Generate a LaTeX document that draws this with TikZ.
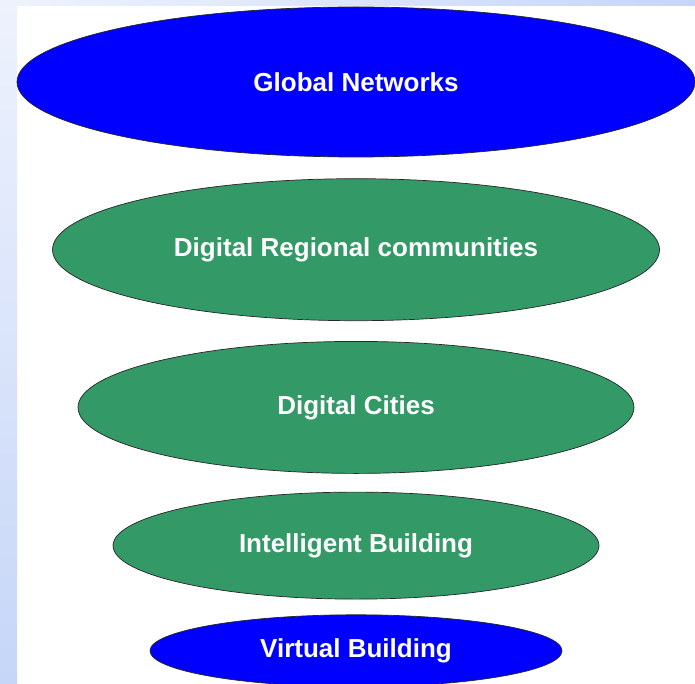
\documentclass[tikz,border=0pt]{standalone}
\usepackage{fontspec}
\setmainfont{Liberation Sans}
\usepackage{xcolor}
\usetikzlibrary{positioning, shapes.geometric}

\definecolor{netblue}{RGB}{0,0,255}
\definecolor{layergreen}{RGB}{51,153,102}
\definecolor{paleblue}{RGB}{238,242,253}
\definecolor{edgeblue}{RGB}{198,214,248}

\begin{document}
\begin{tikzpicture}[
    layer/.style={ellipse, draw=black!85, line width=0.7pt, inner sep=0pt,
        text=white, font=\fontsize{26}{30}\selectfont\bfseries},
    outer/.style={layer, fill=netblue},
    inner/.style={layer, fill=layergreen}
]

% page and side band
\useasboundingbox (0,0) rectangle (695pt,-684pt);
\fill[white] (0,0) rectangle (695pt,-684pt);
\shade[top color=paleblue, bottom color=edgeblue] (0,0) rectangle (17pt,-684pt);
\shade[left color=paleblue, right color=edgeblue] (17pt,0) rectangle (695pt,-6pt);

% Top layer
\node[outer, minimum width=678pt, minimum height=150pt] (global) at (356pt,-82pt) {Global Networks};

% Middle layers
\node[inner, minimum width=607pt, minimum height=142pt, below=21pt of global] (regional) {Digital Regional communities};
\node[inner, minimum width=556pt, minimum height=132pt, below=20pt of regional] (cities) {Digital Cities};
\node[inner, minimum width=486pt, minimum height=107pt, below=18pt of cities] (building) {Intelligent Building};

% Bottom layer
\node[outer, minimum width=412pt, minimum height=72pt, below=15pt of building] (virtual) {Virtual Building};

\end{tikzpicture}
\end{document}
